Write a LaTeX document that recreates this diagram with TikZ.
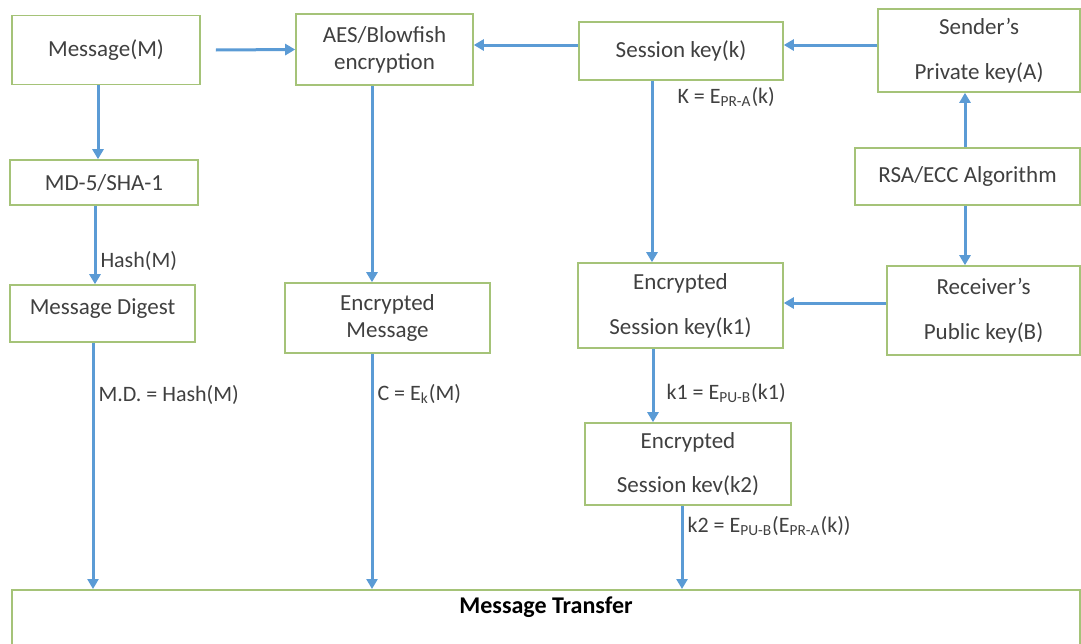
\documentclass[tikz,border=0pt]{standalone}
\usepackage{fontspec}
\setmainfont{Carlito}
\usetikzlibrary{arrows.meta}
\definecolor{boxgreen}{RGB}{165,195,120}
\definecolor{arrblue}{RGB}{91,155,213}
\definecolor{txtgray}{RGB}{64,64,64}

\begin{document}
\begin{tikzpicture}[x=0.5pt, y=-0.5pt,
  box/.style={draw=boxgreen, line width=0.8pt, fill=white, text=txtgray, align=center, font=\fontsize{11.5}{13.5}\selectfont},
  arr/.style={draw=arrblue, line width=1.5pt, -{Triangle[width=5.5pt,length=5pt]}},
  lbl/.style={right, text=txtgray, font=\fontsize{11}{13}\selectfont, inner sep=2pt}]
\useasboundingbox (0,0) rectangle (1081,643);
\node[box, minimum width=94pt, minimum height=34.5pt] (msg) at (106,50) {Message(M)};
\node[box, minimum width=88.5pt, minimum height=35.5pt] (aes) at (384.5,49.5) {AES/Blowfish\\encryption};
\node[box, minimum width=102pt, minimum height=29pt] (sess) at (681,51) {Session key(k)};
\node[box, minimum width=101pt, minimum height=41.5pt] (send) at (979,50.5) {Sender’s\\[9pt]Private key(A)};
\node[box, minimum width=112.5pt, minimum height=28.5pt] (rsa) at (967.5,176.5) {RSA/ECC Algorithm};
\node[box, minimum width=94pt, minimum height=22.5pt] (md5) at (104,182.5) {MD-5/SHA-1};
\node[box, minimum width=92.5pt, minimum height=28.5pt, text depth=7pt] (dig) at (102.5,313.5) {Message Digest};
\node[box, minimum width=102.5pt, minimum height=35pt] (encm) at (387.5,318) {Encrypted\\Message};
\node[box, minimum width=102.5pt, minimum height=42.5pt] (kone) at (680.5,305.5) {Encrypted\\[9pt]Session key(k1)};
\node[box, minimum width=96.5pt, minimum height=44.5pt] (pub) at (983.5,310.5) {Receiver’s\\[9pt]Public key(B)};
\node[box, minimum width=103pt, minimum height=41pt] (ktwo) at (688,464) {Encrypted\\[8.5pt]Session kev(k2)};
\node[box, anchor=north, minimum width=534pt, text height=8.5pt, text depth=21pt, text=black, font=\bfseries\fontsize{12}{14}\selectfont] (trans) at (546,589) {Message Transfer};
\draw[arr] ([xshift=7.5pt]msg.east) -- (aes.west);
\draw[arr] (sess.west |- 0,45) -- (aes.east |- 0,45);
\draw[arr] (send.west |- 0,45) -- (sess.east |- 0,45);
\draw[arr] (pub.west |- 0,303) -- (kone.east |- 0,303);
\draw[arr] (965,0 |- rsa.north) -- (965,0 |- send.south);
\draw[arr] (965,0 |- rsa.south) -- (965,0 |- pub.north);
\draw[arr] (98,0 |- msg.south) -- (98,0 |- md5.north);
\draw[arr] (95,0 |- md5.south) -- node[lbl, pos=0.7]{Hash(M)} (95,0 |- dig.north);
\draw[arr] (93,0 |- dig.south) -- node[lbl, pos=0.21]{M.D. = Hash(M)} (93,0 |- trans.north);
\draw[arr] (372,0 |- aes.south) -- (372,0 |- encm.north);
\draw[arr] (372,0 |- encm.south) -- node[lbl, pos=0.17]{C = E\textsubscript{k}(M)} (372,0 |- trans.north);
\draw[arr] (652,0 |- sess.south) -- node[lbl, pos=0.09, xshift=10pt]{K = E\textsubscript{PR-A}(k)} (652,0 |- kone.north);
\draw[arr] (653,0 |- kone.south) -- node[lbl, pos=0.6, xshift=4pt]{k1 = E\textsubscript{PU-B}(k1)} (653,0 |- ktwo.north);
\draw[arr] (682,0 |- ktwo.south) -- node[lbl, pos=0.24]{k2 = E\textsubscript{PU-B}(E\textsubscript{PR-A}(k))} (682,0 |- trans.north);
\end{tikzpicture}
\end{document}
